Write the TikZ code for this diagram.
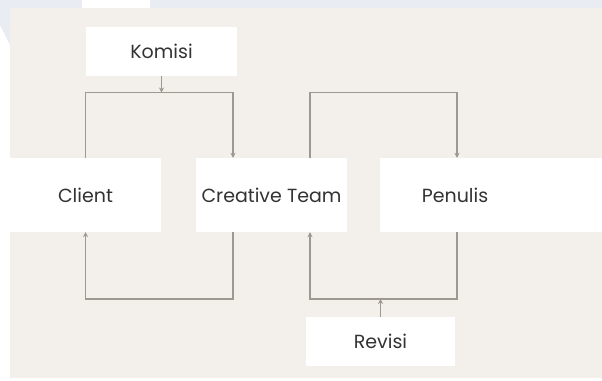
\documentclass[tikz,border=0pt]{standalone}
\usepackage{fontspec}
\setmainfont{Poppins}
\usetikzlibrary{arrows.meta}
\definecolor{beige}{HTML}{F3EFEA}
\definecolor{edgeblue}{HTML}{E9EDF3}
\definecolor{linegray}{HTML}{9E9891}
\definecolor{txt}{HTML}{333333}
\tikzset{
  x=1pt, y=-1pt,
  box/.style={fill=white, draw=none, inner sep=0pt, text=txt, font=\fontsize{19}{23}\selectfont},
  label text/.style={inner sep=0pt, text=txt, font=\fontsize{19}{23}\selectfont},
  conn/.style={draw=linegray, line width=1.8pt},
  arr/.style={conn, -{Stealth[length=5pt,width=5pt]}},
}
\begin{document}
\begin{tikzpicture}
\useasboundingbox (0,0) rectangle (602,380);
% backgrounds
\fill[white] (0,0) rectangle (602,380);
\fill[edgeblue] (0,0) rectangle (602,7.5);
\fill[edgeblue] (0,0) -- (10,0) -- (10,45) -- (0,25) -- cycle;
\fill[white] (82,0) rectangle (150,7.5);
\fill[beige] (10,7.5) rectangle (602,378);
% nodes
\node[box, minimum width=151pt, minimum height=49pt] (kom) at (161.5,51.5) {Komisi};
\node[box, minimum width=151pt, minimum height=74pt] (cl) at (85.5,195) {Client};
\fill[white] (0,158) rectangle (10,232);
\node[box, minimum width=151pt, minimum height=74pt] (cre) at (271.5,195) {Creative Team};
\node[box, minimum width=222pt, minimum height=74pt] (pen) at (491,195) {};
\node[label text] (pentext) at (455,195) {Penulis};
\node[box, minimum width=149pt, minimum height=49pt] (rev) at (380.5,341.5) {Revisi};
% corner coordinates
\coordinate (tl1) at (85.5,92.5);
\coordinate (tr1) at (233,92.5);
\coordinate (tl2) at (310,92.5);
\coordinate (tr2) at (457,92.5);
\coordinate (bl1) at (85.5,299);
\coordinate (br1) at (233,299);
\coordinate (bl2) at (310,299);
\coordinate (br2) at (457,299);
% connectors
\draw[arr] (kom.south) -- (kom.south |- tl1);
\draw[arr] (cl.north) -- (tl1) -- (tr1) -- (tr1 |- cre.north);
\draw[arr] (tl2 |- cre.north) -- (tl2) -- (tr2) -- (tr2 |- pen.north);
\draw[arr] (br1 |- cre.south) -- (br1) -- (bl1) -- (cl.south);
\draw[arr] (br2 |- pen.south) -- (br2) -- (bl2) -- (bl2 |- cre.south);
\draw[arr] (rev.north) -- (rev.north |- bl2);
\end{tikzpicture}
\end{document}
